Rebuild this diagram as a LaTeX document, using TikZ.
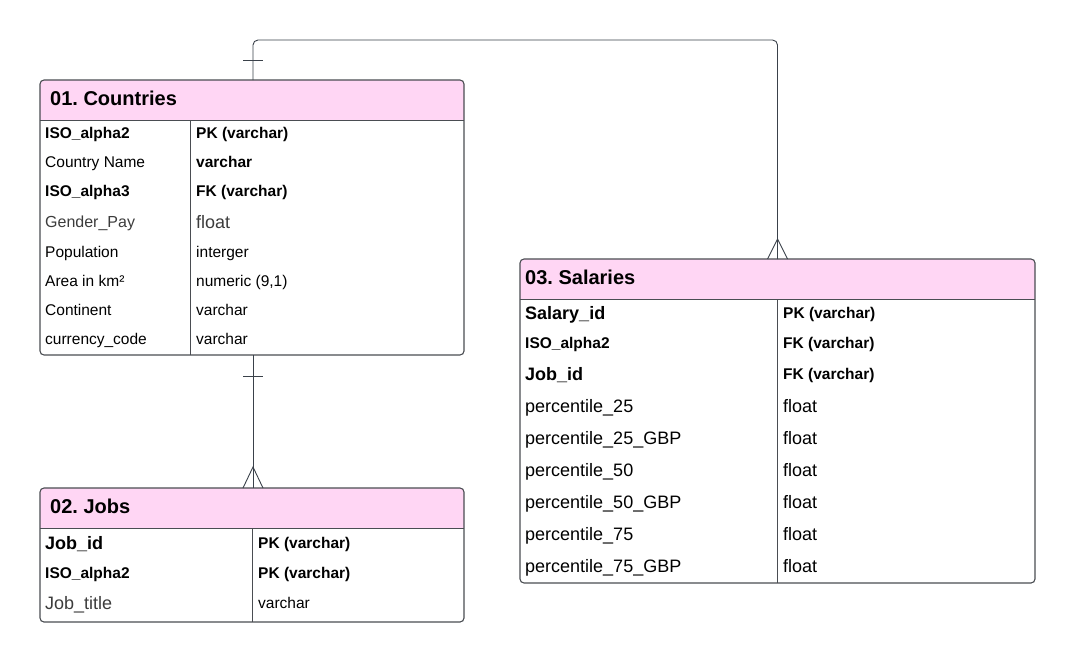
\documentclass[tikz,border=0pt]{standalone}
\usepackage{fontspec}
\setmainfont{Liberation Sans}
\frenchspacing
\definecolor{hdrpink}{HTML}{FFD6F4}
\definecolor{edge}{HTML}{4A4D52}
\definecolor{connc}{HTML}{3A414A}
\definecolor{greytext}{HTML}{3C3C3C}
\tikzset{
  tbl/.style={draw=edge, line width=1.1pt, rounded corners=4pt, inner sep=0pt, outer sep=0pt},
  sep/.style={draw=edge, line width=1pt},
  conn/.style={draw=connc, line width=0.9pt},
  hdrtext/.style={anchor=base west, inner sep=0pt, font=\fontsize{20}{24}\selectfont\bfseries},
  fb/.style={anchor=base west, inner sep=0pt, font=\fontsize{15.5}{18}\selectfont\bfseries},
  fr/.style={anchor=base west, inner sep=0pt, font=\fontsize{15.5}{18}\selectfont},
  fbl/.style={anchor=base west, inner sep=0pt, font=\fontsize{18}{21}\selectfont\bfseries},
  frl/.style={anchor=base west, inner sep=0pt, font=\fontsize{18}{21}\selectfont},
  fg/.style={anchor=base west, inner sep=0pt, text=greytext, font=\fontsize{16}{19}\selectfont},
  fgl/.style={anchor=base west, inner sep=0pt, text=greytext, font=\fontsize{18}{21}\selectfont},
}
\begin{document}
\begin{tikzpicture}[x=1pt,y=-1pt]
\useasboundingbox (0,0) rectangle (1075,661);

% table boxes
\node[minimum width=424pt, minimum height=275pt, inner sep=0pt, outer sep=0pt] (countries) at (252,217.5) {};
\node[minimum width=424pt, minimum height=134pt, inner sep=0pt, outer sep=0pt] (jobs) at (252,555) {};
\node[minimum width=515pt, minimum height=324pt, inner sep=0pt, outer sep=0pt] (salaries) at (777.5,421) {};

% headers
\fill[hdrpink] ([yshift=-40pt]countries.north west) [rounded corners=4pt] -- (countries.north west) -- (countries.north east) [sharp corners] -- ([yshift=-40pt]countries.north east) -- cycle;
\fill[hdrpink] ([yshift=-40pt]jobs.north west) [rounded corners=4pt] -- (jobs.north west) -- (jobs.north east) [sharp corners] -- ([yshift=-40pt]jobs.north east) -- cycle;
\fill[hdrpink] ([yshift=-40pt]salaries.north west) [rounded corners=4pt] -- (salaries.north west) -- (salaries.north east) [sharp corners] -- ([yshift=-40pt]salaries.north east) -- cycle;

% separators
\draw[sep] ([yshift=-40pt]countries.north west) -- ([yshift=-40pt]countries.north east);
\draw[sep] ([yshift=-40pt]jobs.north west) -- ([yshift=-40pt]jobs.north east);
\draw[sep] ([yshift=-40pt]salaries.north west) -- ([yshift=-40pt]salaries.north east);
\draw[sep] (190,120) -- (190,355);
\draw[sep] (252.5,528) -- (252.5,622);
\draw[sep] (777,299) -- (777,583);

% outlines
\draw[tbl] (countries.north west) rectangle (countries.south east);
\draw[tbl] (jobs.north west) rectangle (jobs.south east);
\draw[tbl] (salaries.north west) rectangle (salaries.south east);

% Countries texts
\node[hdrtext] (ch) at (50,105.3) {01. Countries};
\node[fb] (c1) at (45,138.5) {ISO\_alpha2};
\node[fb] (c1t) at (196,138.5) {PK (varchar)};
\node[fr] (c2) at (45,167.5) {Country Name};
\node[fb] (c2t) at (196,167.5) {varchar};
\node[fb] (c3) at (45,196.5) {ISO\_alpha3};
\node[fb] (c3t) at (196,196.5) {FK (varchar)};
\node[fg] (c4) at (45,227) {Gender\_Pay};
\node[fgl] (c4t) at (196,228) {float};
\node[fr] (c5) at (45,257.5) {Population};
\node[fr] (c5t) at (196,257.5) {interger};
\node[fr] (c6) at (45,286.5) {Area in km²};
\node[fr] (c6t) at (196,286.5) {numeric (9,1)};
\node[fr] (c7) at (45,315.5) {Continent};
\node[fr] (c7t) at (196,315.5) {varchar};
\node[fr] (c8) at (45,344.5) {currency\_code};
\node[fr] (c8t) at (196,344.5) {varchar};

% Jobs texts
\node[hdrtext] (jh) at (50,513.3) {02. Jobs};
\node[fbl] (j1) at (45,549) {Job\_id};
\node[fb] (j1t) at (258,548.5) {PK (varchar)};
\node[fb] (j2) at (45,578.5) {ISO\_alpha2};
\node[fb] (j2t) at (258,578.5) {PK (varchar)};
\node[fgl] (j3) at (45,609.5) {Job\_title};
\node[fr] (j3t) at (258,608.5) {varchar};

% Salaries texts
\node[hdrtext] (sh) at (525,284.3) {03. Salaries};
\node[fbl] (s1) at (525,319.4) {Salary\_id};
\node[fb] (s1t) at (783,318.5) {PK (varchar)};
\node[fb] (s2) at (525,348.5) {ISO\_alpha2};
\node[fb] (s2t) at (783,348.5) {FK (varchar)};
\node[fbl] (s3) at (525,380.4) {Job\_id};
\node[fb] (s3t) at (783,379.5) {FK (varchar)};
\node[frl] (s4) at (525,412.4) {percentile\_25};
\node[frl] (s4t) at (783,412.4) {float};
\node[frl] (s5) at (525,444.4) {percentile\_25\_GBP};
\node[frl] (s5t) at (783,444.4) {float};
\node[frl] (s6) at (525,476.4) {percentile\_50};
\node[frl] (s6t) at (783,476.4) {float};
\node[frl] (s7) at (525,508.4) {percentile\_50\_GBP};
\node[frl] (s7t) at (783,508.4) {float};
\node[frl] (s8) at (525,540.4) {percentile\_75};
\node[frl] (s8t) at (783,540.4) {float};
\node[frl] (s9) at (525,572.4) {percentile\_75\_GBP};
\node[frl] (s9t) at (783,572.4) {float};

% connectors
\coordinate (topy) at (0,40);
\draw[conn, rounded corners=5pt] ([xshift=1pt]countries.north) -- ([xshift=1pt]countries.north |- topy) -- (salaries.north |- topy) -- (salaries.north);
\draw[conn] ([xshift=-9pt,yshift=20pt]countries.north) -- ([xshift=11pt,yshift=20pt]countries.north);
\draw[conn] ([xshift=-10pt]salaries.north) -- ([yshift=20pt]salaries.north) -- ([xshift=10pt]salaries.north);

\draw[conn] ([xshift=1pt]countries.south) -- ([xshift=1pt]jobs.north);
\draw[conn] ([xshift=-9pt,yshift=-21pt]countries.south) -- ([xshift=11pt,yshift=-21pt]countries.south);
\draw[conn] ([xshift=-9pt]jobs.north) -- ([xshift=1pt,yshift=21pt]jobs.north) -- ([xshift=11pt]jobs.north);
\end{tikzpicture}
\end{document}
